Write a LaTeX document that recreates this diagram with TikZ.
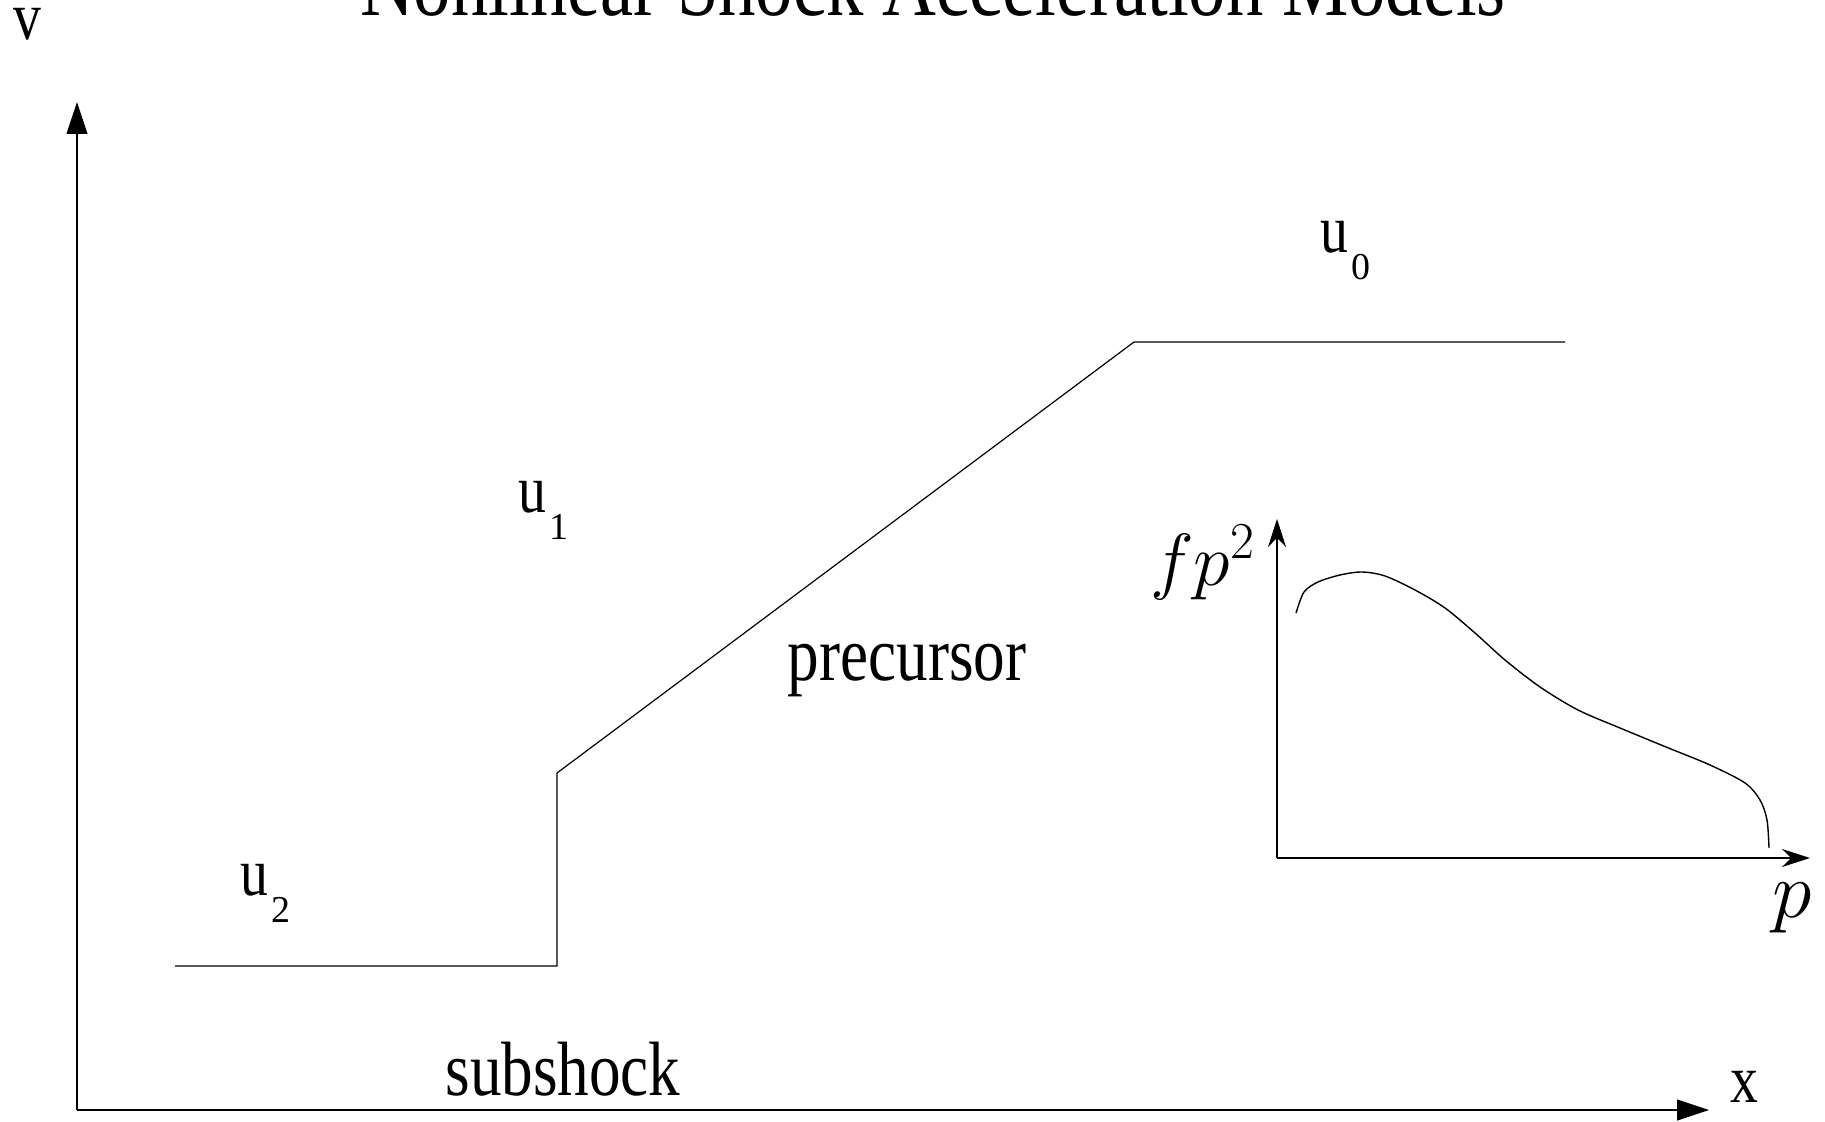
\documentclass[tikz,border=0pt]{standalone}
\usepackage{fix-cm}
\usepackage{amsmath}
\usepackage[no-math]{fontspec}
\setmainfont[FakeStretch=0.82]{Liberation Serif}
\newfontfamily\subfont{Liberation Serif}
\usetikzlibrary{arrows.meta}
\newcommand{\vel}[1]{u\kern1.5pt\raisebox{-13.5pt}{\subfont\fontsize{19}{20}\selectfont #1}}

\begin{document}
\begin{tikzpicture}[x=0.5pt,y=-0.5pt,
  lbl/.style={inner sep=0pt,font=\fontsize{34}{36}\selectfont},
  big/.style={inner sep=0pt,font=\fontsize{38.5}{40}\selectfont},
  head/.style={inner sep=0pt,font=\fontsize{45.5}{47}\selectfont},
  axis/.style={line width=0.6pt,-{Triangle[length=16pt,width=10.5pt]}},
  inaxis/.style={line width=1pt,-{Stealth[length=14pt,width=9pt]}}]
  \useasboundingbox (0,0) rectangle (1825,1122);
  % title, cut by the page edge
  \node[head,anchor=base] (title) at (933,16) {Nonlinear Shock Acceleration Models};

  % axes
  \coordinate (O) at (77,1110);
  \coordinate (vtop) at (77,102);
  \coordinate (xend) at (1709,1110);
  \draw[axis] (O) -- (vtop);
  \draw[axis] (O) -- (xend);
  \node[lbl,anchor=base] (v) at (27,40) {v};
  \node[lbl,anchor=base] (x) at (1744,1102) {x};

  % velocity profile
  \coordinate (d0) at (175,966);
  \coordinate (d1) at (557,966);
  \coordinate (s1) at (557,773);
  \coordinate (p1) at (1134,342);
  \coordinate (p2) at (1565,342);
  \draw[line width=0.6pt] (d0) -- (d1) -- (s1) -- (p1) -- (p2);
  \foreach \n/\i/\x/\y in {u0/0/1320/253, u1/1/518/513, u2/2/240/895}
    \node[lbl,anchor=base west] (\n) at (\x,\y) {\vel{\i}};
  \node[big,anchor=base] (pre) at (907,680) {precursor};
  \node[big,anchor=base] (sub) at (563,1095) {subshock};

  % inset spectrum
  \coordinate (o) at (1277,858);
  \coordinate (fy) at (1277,519);
  \coordinate (fx) at (1810,858);
  \draw[inaxis] (o) -- (fy);
  \draw[inaxis] (o) -- (fx);
  \node[inner sep=0pt,anchor=base west,font=\fontsize{37}{39}\selectfont] (fp) at (1150,585) {$fp^2$};
  \node[inner sep=0pt,anchor=base west,font=\fontsize{40}{42}\selectfont] (p) at (1772,917) {$p$};
  \draw[line width=0.7pt] plot[smooth,tension=0.5] coordinates {(1296,613) (1304,592) (1318,582) (1340,575) (1362,572) (1385,576) (1415,590) (1445,608) (1475,633) (1505,660) (1540,687) (1578,710) (1620,728) (1666,747) (1710,765) (1745,783) (1760,800) (1767,820) (1769,848)};
\end{tikzpicture}
\end{document}
